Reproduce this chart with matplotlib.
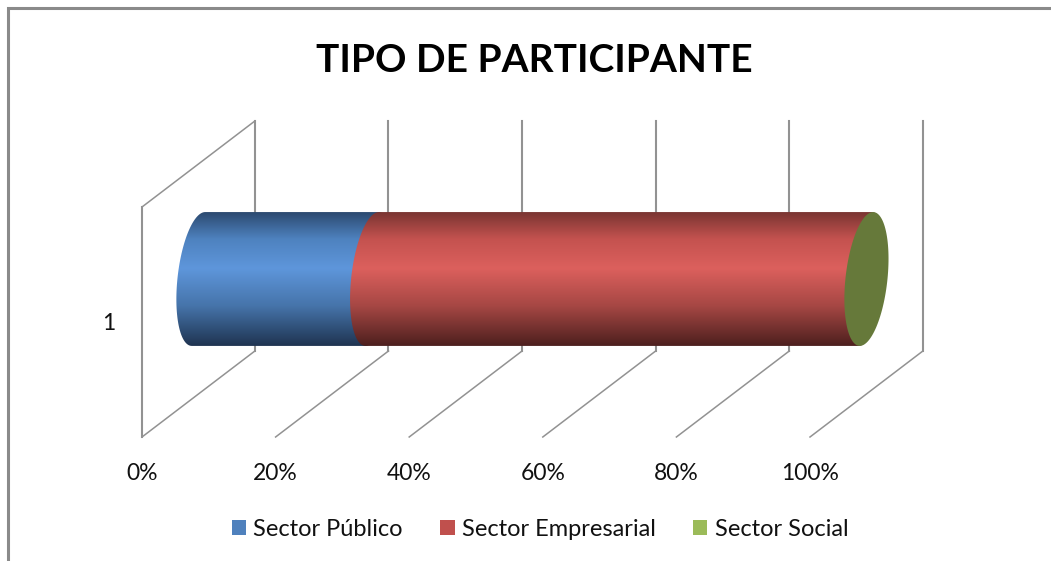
# Tipo de participante: 100% stacked cylinder bar with Excel style 3D walls

import numpy as np
import matplotlib
matplotlib.use("Agg")
import matplotlib.pyplot as plt
from matplotlib.colors import LinearSegmentedColormap
from matplotlib.patches import Patch, Polygon, Rectangle

plt.rcParams["font.family"] = ["Lato", "DejaVu Sans"]

# ----------------------------------------------------------
# Data
# ----------------------------------------------------------
TITLE = "TIPO DE PARTICIPANTE"
CATEGORY = "1"
SECTORS = ["Sector Público", "Sector Empresarial", "Sector Social"]
SHARES = [26.0, 73.8, 0.2]
X_TICKS = [0, 20, 40, 60, 80, 100]
X_LABELS = ["0%", "20%", "40%", "60%", "80%", "100%"]

# ----------------------------------------------------------
# Styles
# ----------------------------------------------------------
LEGEND_COLORS = ["#4f81bd", "#c0504d", "#9bbb59"]
SHADES = [
    ["#2c4a70", "#4e82bf", "#5e96db", "#4674aa", "#1f3451"],
    ["#7a3532", "#c4524f", "#dc605d", "#a64744", "#4d1f1e"],
]
CAP_COLOR = "#66793a"
GRID_COLOR = "#929292"

W, H = 1051, 561
DEPTH_X, DEPTH_Y = 16.9, 0.374      # shift from front to back wall
BAR_HALF = 0.291                    # cylinder half height
CAP_RX, CAP_SHEAR = 3.15, 1.0       # end ellipse half width and lean


def cap_arc(x, cy, t):
    return (x + CAP_RX * np.cos(t) + CAP_SHEAR * np.sin(t),
            cy + BAR_HALF * np.sin(t))


fig = plt.figure(figsize=(W / 100, H / 100), dpi=100, facecolor="white")

# outer chart frame
fig.add_artist(Rectangle((7.5 / W, -0.02), 1.1, 1 - 7.5 / H + 0.02, transform=fig.transFigure,
                         fill=False, edgecolor="#8a8a8a", linewidth=2.2))

ax = fig.add_axes([142 / W, 1 - 437 / H, 668 / W, 230 / H])
ax.set_xlim(0, 100)
ax.set_ylim(0, 1)
ax.patch.set_visible(False)
for side in ax.spines.values():
    side.set_visible(False)

ax.set_xticks(X_TICKS, X_LABELS)
ax.set_yticks([0.5], [CATEGORY])
ax.tick_params(axis="x", length=0, pad=19, labelsize=16.5, labelcolor="#111111")
ax.tick_params(axis="y", length=0, pad=19, labelsize=16.5, labelcolor="#111111")

# ----------------------------------------------------------
# Walls and grid lines
# ----------------------------------------------------------
for tick in X_TICKS:
    ax.plot([tick, tick + DEPTH_X], [0, DEPTH_Y], color=GRID_COLOR, lw=1.1, clip_on=False, zorder=1)
    ax.plot([tick + DEPTH_X] * 2, [DEPTH_Y, 1 + DEPTH_Y], color=GRID_COLOR, lw=1.5, clip_on=False, zorder=1)
ax.plot([0, 0], [0, 1], color=GRID_COLOR, lw=1.5, clip_on=False, zorder=1)
ax.plot([0, DEPTH_X], [1, 1 + DEPTH_Y], color=GRID_COLOR, lw=1.1, clip_on=False, zorder=1)

# ----------------------------------------------------------
# Cylinder segments
# ----------------------------------------------------------
x0 = DEPTH_X / 2
cy = 0.5 + DEPTH_Y / 2
start = 0
for i, share in enumerate(SHARES[:2]):
    end = start + share
    left = cap_arc(x0 + start, cy, np.linspace(np.pi / 2, 3 * np.pi / 2, 60))
    right = cap_arc(x0 + end, cy, np.linspace(-np.pi / 2, np.pi / 2, 60))
    outline = np.column_stack([np.r_[left[0], right[0]], np.r_[left[1], right[1]]])
    shape = Polygon(outline, closed=True, facecolor="none", edgecolor="none",
                    transform=ax.transData, clip_on=False)
    ax.add_patch(shape)
    cmap = LinearSegmentedColormap.from_list("shade", list(zip([0, 0.2, 0.42, 0.7, 1], SHADES[i])))
    img = ax.imshow(np.linspace(0, 1, 256).reshape(-1, 1), cmap=cmap, aspect="auto",
                    origin="upper", zorder=2 + i,
                    extent=[x0 + start - 8, x0 + end + 8, cy - BAR_HALF, cy + BAR_HALF])
    # the bar runs past the 100% edge of the axes, so clip on the figure and the outline only
    img.set_clip_box(fig.bbox)
    img.set_clip_path(shape)
    start = end

ax.set_xlim(0, 100)
ax.set_ylim(0, 1)

# end cap of the last sector
t = np.linspace(0, 2 * np.pi, 120)
cap = cap_arc(x0 + start + SHARES[2], cy, t)
ax.fill(cap[0], cap[1], color=CAP_COLOR, lw=0, zorder=5, clip_on=False)

# ----------------------------------------------------------
# Title and legend
# ----------------------------------------------------------
fig.text(534 / W, 1 - 60 / H, TITLE, ha="center", va="center", fontsize=28, fontweight="bold",
         color="black")

handles = [Patch(facecolor=c, edgecolor="none") for c in LEGEND_COLORS]
fig.legend(handles, SECTORS, loc="center", bbox_to_anchor=(540 / W, 1 - 529 / H), ncol=3,
           frameon=False, fontsize=17, handlelength=0.6, handleheight=0.6,
           handletextpad=0.3, columnspacing=1.6, labelcolor="#111111")

fig.savefig("out.png", dpi=100)
plt.close(fig)
